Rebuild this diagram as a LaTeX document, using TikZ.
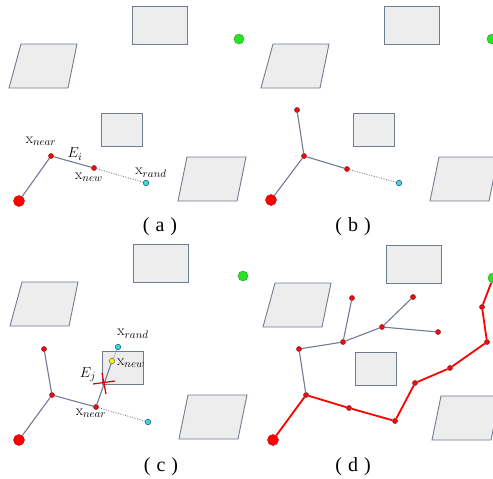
\documentclass[tikz,border=0pt]{standalone}
\usepackage{amsmath}
\usepackage{fontspec}
\newfontfamily\capfont{Liberation Serif}
\usepackage{xcolor}

\definecolor{obsfill}{RGB}{237,237,237}
\definecolor{obsline}{RGB}{112,124,142}
\definecolor{edgegray}{RGB}{112,124,145}
\definecolor{dotred}{RGB}{232,16,16}
\definecolor{darkred}{RGB}{150,20,20}
\definecolor{goalgreen}{RGB}{40,225,40}
\definecolor{randcyan}{RGB}{60,215,235}

\begin{document}
\begin{tikzpicture}[
        x=1pt, y=-1pt,
        obstacle/.style={
            draw=obsline,
            fill=obsfill,
            line width=0.9pt
        },
        root/.style={circle, fill=red, draw=red!80!black, inner sep=0pt, minimum size=11pt},
        goal/.style={circle, fill=goalgreen, draw=goalgreen!75!black, inner sep=0pt, minimum size=10pt},
        vtx/.style={circle, fill=dotred, draw=darkred, inner sep=0pt, minimum size=5pt, line width=0.5pt},
        rnd/.style={circle, fill=randcyan, draw=teal!70!black, inner sep=0pt, minimum size=5.5pt, line width=0.5pt},
        newpt/.style={circle, fill=yellow, draw=black!60, inner sep=0pt, minimum size=5.5pt, line width=0.5pt},
        branch/.style={draw=edgegray, line width=1.1pt},
        route/.style={draw=red, line width=1.8pt},
        probe/.style={draw=edgegray, dash pattern=on 1pt off 1.5pt, line width=0.8pt},
        lbl/.style={font=\fontsize{15}{17}\selectfont, inner sep=0pt},
        panelcap/.style={font=\capfont\fontsize{20}{22}\selectfont, inner sep=0pt}
    ]
        \useasboundingbox (0,0) rectangle (493,479);

        % same obstacle map in all four panels
        \foreach \dx/\dy in {0/0, 252/0, 1/238, 254/239} {
            \begin{scope}[shift={(\dx,\dy)}]
                \draw[obstacle] (132,6) rectangle (187,44);
                \draw[obstacle] (21,44) -- (77,44) -- (68,88) -- (9,88) -- cycle;
                \draw[obstacle] (101,113) rectangle (142,146);
                \draw[obstacle] (187,157) -- (246,157) -- (237,201) -- (178,201) -- cycle;
            \end{scope}
        }

        % (a)
        \node[root] (Sa) at (19,201) {};
        \node[goal] (Ga) at (239,39) {};
        \node[vtx] (Na) at (51,156) {};
        \node[vtx] (Wa) at (94,168) {};
        \node[rnd] (Ra) at (146,183) {};

        \draw[branch] (Sa) -- (Na) -- (Wa);
        \draw[probe] (Wa) -- (Ra);

        \node[lbl] (LNa) at (41,141) {$\mathrm{x}_{near}$};
        \node[lbl] (LEa) at (75,154) {$E_{i}$};
        \node[lbl] (LWa) at (89,177) {$\mathrm{x}_{new}$};
        \node[lbl] (LRa) at (151,173) {$\mathrm{x}_{rand}$};
        \node[panelcap] (Ca) at (160,227) {(\hspace{6pt}a\hspace{6pt})};

        % (b)
        \node[root] (Sb) at (271,200) {};
        \node[goal] (Gb) at (492,39) {};
        \node[vtx] (Nb) at (304,156) {};
        \node[vtx] (Ub) at (297,110) {};
        \node[vtx] (Wb) at (347,169) {};
        \node[rnd] (Rb) at (399,183) {};

        \draw[branch] (Sb) -- (Nb) -- (Wb);
        \draw[branch] (Nb) -- (Ub);
        \draw[probe] (Wb) -- (Rb);

        \node[panelcap] (Cb) at (353,227) {(\hspace{6pt}b\hspace{6pt})};

        % (c)
        \node[root] (Sc) at (19,440) {};
        \node[goal] (Gc) at (243,276) {};
        \node[vtx] (Bc) at (52,395) {};
        \node[vtx] (Uc) at (44,349) {};
        \node[vtx] (Nc) at (96,407) {};
        \node[newpt] (Wc) at (112,361) {};
        \node[rnd] (Rc) at (118,347) {};
        \node[rnd] (Qc) at (148,422) {};

        \draw[branch] (Sc) -- (Bc) -- (Nc) -- (Wc);
        \draw[branch] (Bc) -- (Uc);
        \draw[probe] (Nc) -- (Qc);
        \draw[probe] (Wc) -- (Rc);

        \coordinate (Xc) at (104,383);
        \draw[red!85!black, line width=1.2pt] (Xc) ++(-11,1) -- ++(22,-3);
        \draw[red!85!black, line width=1.2pt] (Xc) ++(-2,-10) -- ++(4,21);

        \node[lbl] (LRc) at (133,334) {$\mathrm{x}_{rand}$};
        \node[lbl] (LWc) at (131,363) {$\mathrm{x}_{new}$};
        \node[lbl] (LEc) at (88,375) {$E_{j}$};
        \node[lbl] (LNc) at (91,413) {$\mathrm{x}_{near}$};
        \node[panelcap] (Cc) at (161,467) {(\hspace{6pt}c\hspace{6pt})};

        % (d)
        \node[root] (Sd) at (273,440) {};
        \node[goal] (Gd) at (493,278) {};
        \node[vtx] (D1) at (306,395) {};
        \node[vtx] (D2) at (299,349) {};
        \node[vtx] (D3) at (343,342) {};
        \node[vtx] (D4) at (352,298) {};
        \node[vtx] (D5) at (382,327) {};
        \node[vtx] (D6) at (413,297) {};
        \node[vtx] (D7) at (438,332) {};
        \node[vtx] (P1) at (349,408) {};
        \node[vtx] (P2) at (395,421) {};
        \node[vtx] (P3) at (415,383) {};
        \node[vtx] (P4) at (450,368) {};
        \node[vtx] (P5) at (487,342) {};
        \node[vtx] (P6) at (482,307) {};

        \draw[branch] (D1) -- (D2) -- (D3) -- (D5) -- (D6);
        \draw[branch] (D3) -- (D4);
        \draw[branch] (D5) -- (D7);
        \draw[route] (Sd) -- (D1) -- (P1) -- (P2) -- (P3) -- (P4) -- (P5) -- (P6) -- (Gd);

        \node[panelcap] (Cd) at (353,467) {(\hspace{6pt}d\hspace{6pt})};
    \end{tikzpicture}
\end{document}
